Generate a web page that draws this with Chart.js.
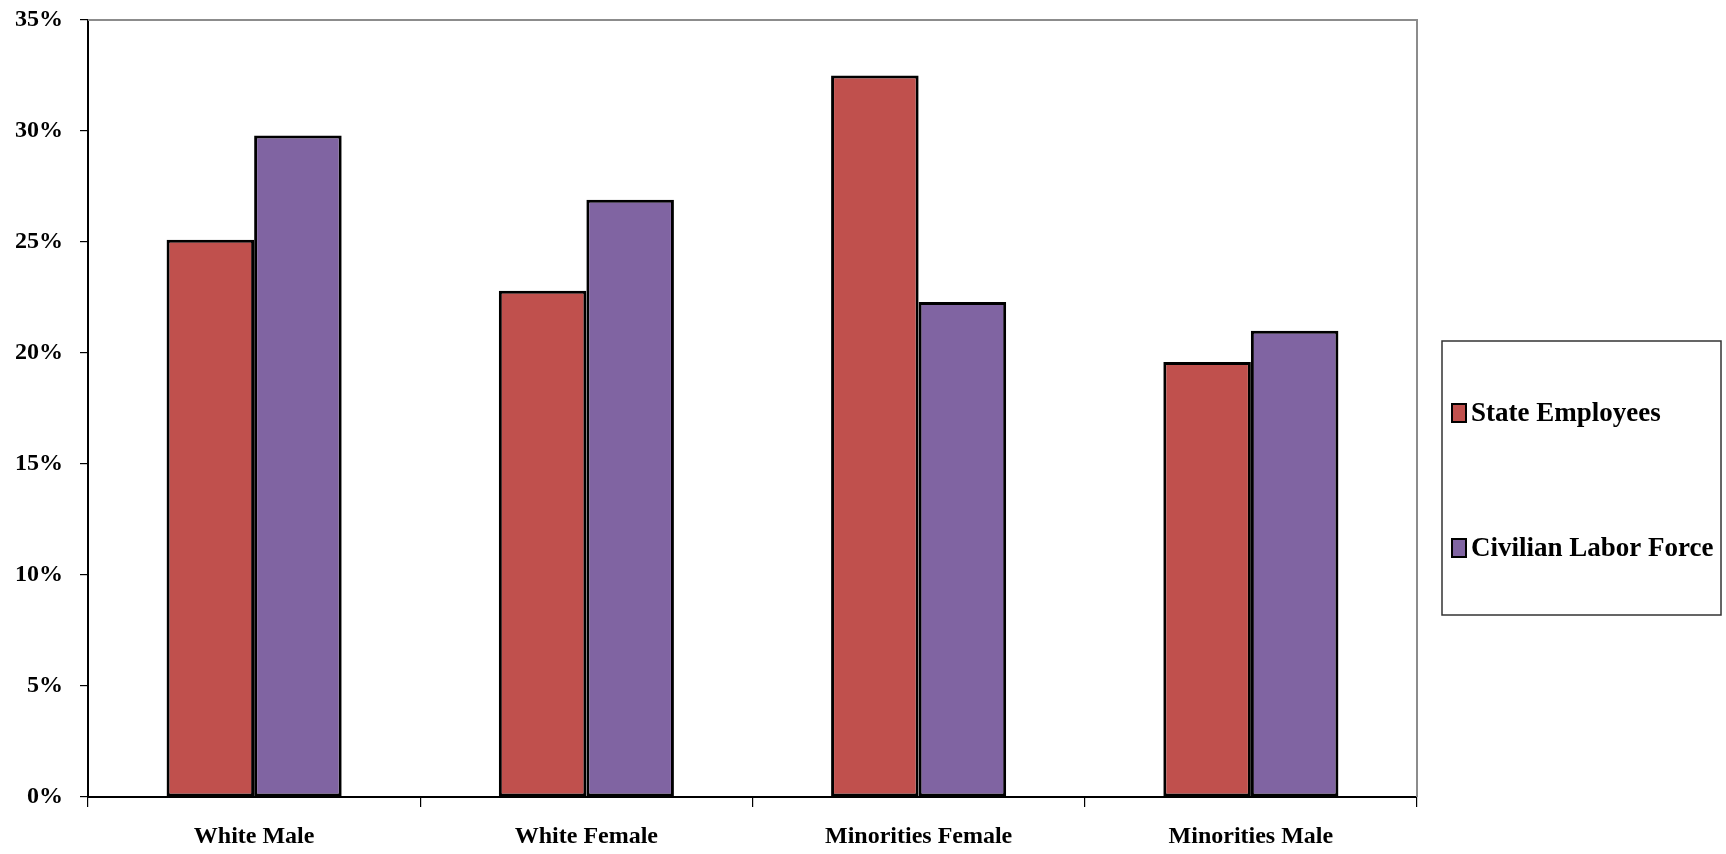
<!DOCTYPE html>
<html>
<head>
<meta charset="utf-8">
<title>State Employees vs Civilian Labor Force</title>
<script src="https://cdn.jsdelivr.net/npm/chart.js"></script>
<style>
    body { margin: 0; background: #fff; }
    #wrap { width: 1726px; height: 854px; }
</style>
</head>
<body>
<div id="wrap"><canvas id="barChart" width="1726" height="854"></canvas></div>
<script>
// categories on the x axis
const categories = ['White Male', 'White Female', 'Minorities Female', 'Minorities Male'];

// series values, in percent
const stateEmployees = [25.1, 22.8, 32.5, 19.6];
const civilianLaborForce = [29.8, 26.9, 22.3, 21.0];

// y axis ticks
const yTicks = [0, 5, 10, 15, 20, 25, 30, 35];

const FONT = "'Liberation Serif', 'Times New Roman', serif";

// grey frame on top and right side of the plot area
const plotFrame = {
    id: 'plotFrame',
    beforeDatasetsDraw(chart) {
        const a = chart.chartArea;
        const c = chart.ctx;
        c.save();
        c.strokeStyle = '#8c8c8c';
        c.lineWidth = 2;
        c.beginPath();
        c.moveTo(a.left, a.top);
        c.lineTo(a.right, a.top);
        c.lineTo(a.right, a.bottom);
        c.stroke();
        c.restore();
    }
};

// legend in a box at the right
const boxLegend = {
    id: 'boxLegend',
    afterDraw(chart) {
        const c = chart.ctx;
        const box = { x: 1442, y: 341, w: 279, h: 274 };
        const rows = [413, 548];
        c.save();
        c.strokeStyle = '#333';
        c.lineWidth = 1.5;
        c.strokeRect(box.x, box.y, box.w, box.h);
        c.font = 'bold 27px ' + FONT;
        c.textBaseline = 'middle';
        chart.data.datasets.forEach((ds, i) => {
            const y = rows[i];
            c.fillStyle = ds.backgroundColor;
            c.fillRect(box.x + 10, y - 9, 14, 18);
            c.strokeStyle = '#000';
            c.lineWidth = 2;
            c.strokeRect(box.x + 10, y - 9, 14, 18);
            c.fillStyle = '#000';
            c.fillText(ds.label, box.x + 29, y + 1);
        });
        c.restore();
    }
};

const ctx = document.getElementById('barChart').getContext('2d');

const barChart = new Chart(ctx, {
    type: 'bar',
    data: {
        labels: categories,
        datasets: [{
            label: 'State Employees',
            data: stateEmployees,
            backgroundColor: '#C0504D',
            borderColor: '#000',
            borderWidth: 3,
            borderSkipped: false
        },
        {
            label: 'Civilian Labor Force',
            data: civilianLaborForce,
            backgroundColor: '#8064A2',
            borderColor: '#000',
            borderWidth: 3,
            borderSkipped: false
        }]
    },
    options: {
        responsive: false,
        animation: false,
        layout: { padding: { top: 20, right: 309, left: 0, bottom: 0 } },
        datasets: {
            bar: { categoryPercentage: 0.527, barPercentage: 1 }
        },
        plugins: {
            legend: { display: false },
            tooltip: { enabled: false }
        },
        scales: {
            x: {
                afterFit(scale) {
                    scale.height = 57;
                    scale.paddingLeft = 0;
                    scale.paddingRight = 0;
                },
                grid: {
                    offset: true,
                    drawOnChartArea: false,
                    drawTicks: true,
                    tickLength: 10,
                    color: '#000',
                    lineWidth: 1.2
                },
                border: { display: true, color: '#000', width: 2 },
                ticks: {
                    color: '#000',
                    padding: 15,
                    font: { family: FONT, size: 24, weight: 'bold' }
                }
            },
            y: {
                min: 0,
                max: 35,
                afterFit(scale) {
                    scale.width = 88;
                    // no extra room for the half label at the top
                    scale.paddingTop = 0;
                    scale.paddingBottom = 0;
                },
                afterBuildTicks(scale) {
                    scale.ticks = yTicks.map(v => ({ value: v }));
                },
                grid: {
                    drawOnChartArea: false,
                    drawTicks: true,
                    tickLength: 8,
                    color: '#000',
                    lineWidth: 1.2
                },
                border: { display: true, color: '#000', width: 2 },
                ticks: {
                    color: '#000',
                    padding: 17,
                    font: { family: FONT, size: 24, weight: 'bold' },
                    callback: value => value + '%'
                }
            }
        }
    },
    plugins: [plotFrame, boxLegend]
});
</script>
</body>
</html>
